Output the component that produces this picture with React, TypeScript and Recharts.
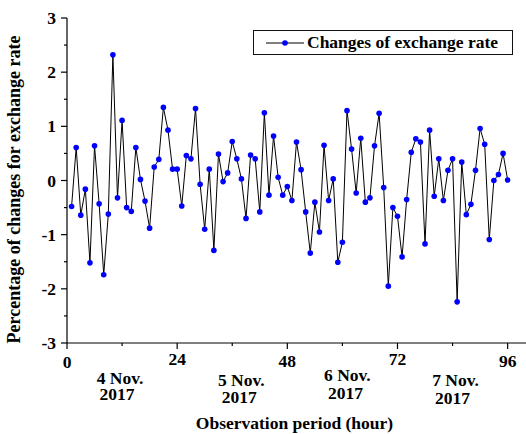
import { LineChart, Line, XAxis, YAxis, Legend } from "recharts"

// hourly % change of the exchange rate, hours 1..96
const rates = [
  -0.48, 0.61, -0.64, -0.16, -1.52, 0.64, -0.43, -1.74, -0.62, 2.32, -0.32, 1.11,
  -0.5, -0.57, 0.61, 0.02, -0.38, -0.88, 0.25, 0.39, 1.35, 0.93, 0.21, 0.21,
  -0.47, 0.46, 0.4, 1.33, -0.07, -0.9, 0.21, -1.29, 0.49, -0.02, 0.14, 0.72,
  0.4, 0.03, -0.7, 0.47, 0.4, -0.58, 1.25, -0.27, 0.82, 0.06, -0.27, -0.11,
  -0.37, 0.71, 0.2, -0.58, -1.34, -0.4, -0.95, 0.65, -0.37, 0.03, -1.51, -1.14,
  1.29, 0.58, -0.23, 0.78, -0.4, -0.32, 0.64, 1.24, -0.13, -1.95, -0.5, -0.66,
  -1.41, -0.35, 0.52, 0.77, 0.71, -1.17, 0.93, -0.29, 0.4, -0.37, 0.19, 0.4,
  -2.24, 0.34, -0.63, -0.44, 0.19, 0.96, 0.67, -1.09, 0.0, 0.11, 0.5, 0.01,
]
const hourTicks = [0, 24, 48, 72, 96]
const dayTicks = [12, 36, 60, 84]
const dayLabels = ["4 Nov.", "5 Nov.", "6 Nov.", "7 Nov."]
const yearLabel = "2017"
const yTicks = [-3, -2, -1, 0, 1, 2, 3]
const yMinorTicks = [-2.5, -1.5, -0.5, 0.5, 1.5, 2.5]

const seriesName = "Changes of exchange rate"
const xTitle = "Observation period (hour)"
const yTitle = "Percentage of changes for exchange rate"

const data = rates.map((v, i) => ({ hour: i + 1, rate: v }))

const FONT = "'Liberation Serif', 'Times New Roman', serif"
const AXIS = "#000"
const textStyle = { fontFamily: FONT, fontWeight: 700, fontSize: 17.5, fill: "#000" }

// small hand nudges so the captions sit where the original put them
const hourLabelDy = [25, 22, 24, 22, 24]
const dayNudge = [
  { dx: -2, dx2: -5, dy1: 41, dy2: 57 },
  { dx: 9, dx2: 7, dy1: 43, dy2: 60 },
  { dx: 5, dx2: 3, dy1: 38, dy2: 56 },
  { dx: 3, dx2: 0, dy1: 43, dy2: 61 },
]

const BottomTick = (props: any) => {
  const { x, y, payload } = props
  const v = payload.value
  const h = hourTicks.indexOf(v)
  if (h >= 0) {
    return (
      <g>
        <line x1={x} x2={x} y1={y} y2={y + 6} stroke={AXIS} strokeWidth={1.2} />
        <text x={x} y={y + hourLabelDy[h]} textAnchor="middle" style={textStyle}>
          {v}
        </text>
      </g>
    )
  }
  const d = dayTicks.indexOf(v)
  if (d < 0) return null
  const n = dayNudge[d]
  // date and year as one two-line caption
  return (
    <g>
      <line x1={x} x2={x} y1={y} y2={y + 3} stroke={AXIS} strokeWidth={1.2} />
      <text textAnchor="middle" style={textStyle}>
        <tspan x={x + n.dx} y={y + n.dy1}>
          {dayLabels[d]}
        </tspan>
        <tspan x={x + n.dx2} y={y + n.dy2}>
          {yearLabel}
        </tspan>
      </text>
    </g>
  )
}

const TopTick = (props: any) => {
  const { x, y, payload } = props
  const len = hourTicks.includes(payload.value) ? 5 : 3
  return <line x1={x} x2={x} y1={y} y2={y + len} stroke={AXIS} strokeWidth={1.2} />
}

const LeftTick = (props: any) => {
  const { x, y, payload } = props
  const v = payload.value
  if (!yTicks.includes(v)) {
    return <line x1={x - 3} x2={x} y1={y} y2={y} stroke={AXIS} strokeWidth={1.2} />
  }
  return (
    <g>
      <line x1={x - 6} x2={x} y1={y} y2={y} stroke={AXIS} strokeWidth={1.2} />
      <text x={x - 11} y={y} dy="0.35em" textAnchor="end" style={textStyle}>
        {v}
      </text>
    </g>
  )
}

const RightTick = (props: any) => {
  const { x, y } = props
  return <line x1={x - 5} x2={x} y1={y} y2={y} stroke={AXIS} strokeWidth={1.2} />
}

const renderLegend = (props: any) => {
  const name = props.payload?.[0]?.value ?? seriesName
  return (
    <div
      style={{
        boxSizing: "border-box",
        width: 260,
        height: 25,
        border: "1.2px solid #111",
        background: "#fff",
        display: "flex",
        alignItems: "center",
      }}
    >
      <svg width={53} height={12} style={{ flex: "none" }}>
        <line x1={12} x2={50} y1={6} y2={6} stroke="#000" strokeWidth={1} />
        <circle cx={31} cy={6} r={2.8} fill="#0000ff" />
      </svg>
      <span style={{ fontFamily: FONT, fontWeight: 700, fontSize: 17.5, color: "#000", whiteSpace: "nowrap" }}>
        {name}
      </span>
    </div>
  )
}

export default function App() {
  return (
    <div style={{ position: "absolute", left: 0, top: 0, background: "#fff" }}>
      <LineChart width={528} height={434} data={data} margin={{ top: 18, right: 2, bottom: 0, left: 0 }}>
        <XAxis
          dataKey="hour"
          type="number"
          domain={[0, 100]}
          ticks={[0, 12, 24, 36, 48, 60, 72, 84, 96]}
          interval={0}
          tickSize={0}
          tickMargin={0}
          tickLine={false}
          tick={<BottomTick />}
          axisLine={{ stroke: AXIS, strokeWidth: 1.2 }}
          height={91}
          label={{ value: xTitle, position: "insideBottom", offset: 5, dx: -2, style: textStyle }}
        />
        <XAxis
          xAxisId="top"
          dataKey="hour"
          type="number"
          orientation="top"
          mirror
          height={0}
          domain={[0, 100]}
          ticks={[0, 12, 24, 36, 48, 60, 72, 84, 96]}
          interval={0}
          tickSize={0}
          tickMargin={0}
          tickLine={false}
          tick={<TopTick />}
          axisLine={{ stroke: AXIS, strokeWidth: 1.2 }}
        />
        <YAxis
          type="number"
          domain={[-3, 3]}
          ticks={[...yTicks, ...yMinorTicks].sort((a, b) => a - b)}
          interval={0}
          width={67}
          tickSize={0}
          tickMargin={0}
          tickLine={false}
          tick={<LeftTick />}
          axisLine={{ stroke: AXIS, strokeWidth: 1.2 }}
          label={{ value: yTitle, angle: -90, position: "center", dx: -20, dy: 9, style: { ...textStyle, fontSize: 18 } }}
        />
        <YAxis
          yAxisId="right"
          orientation="right"
          mirror
          width={0}
          type="number"
          domain={[-3, 3]}
          ticks={yTicks}
          interval={0}
          tickSize={0}
          tickMargin={0}
          tickLine={false}
          tick={<RightTick />}
          axisLine={false}
        />
        <Legend
          content={renderLegend}
          verticalAlign="middle"
          align="center"
          wrapperStyle={{ top: 30, left: 253, width: 260, height: 25 }}
        />
        <Line
          name={seriesName}
          dataKey="rate"
          type="linear"
          stroke="#000"
          strokeWidth={1}
          dot={{ r: 2.8, fill: "#0000ff", stroke: "none" }}
          activeDot={false}
          isAnimationActive={false}
        />
      </LineChart>
    </div>
  )
}
